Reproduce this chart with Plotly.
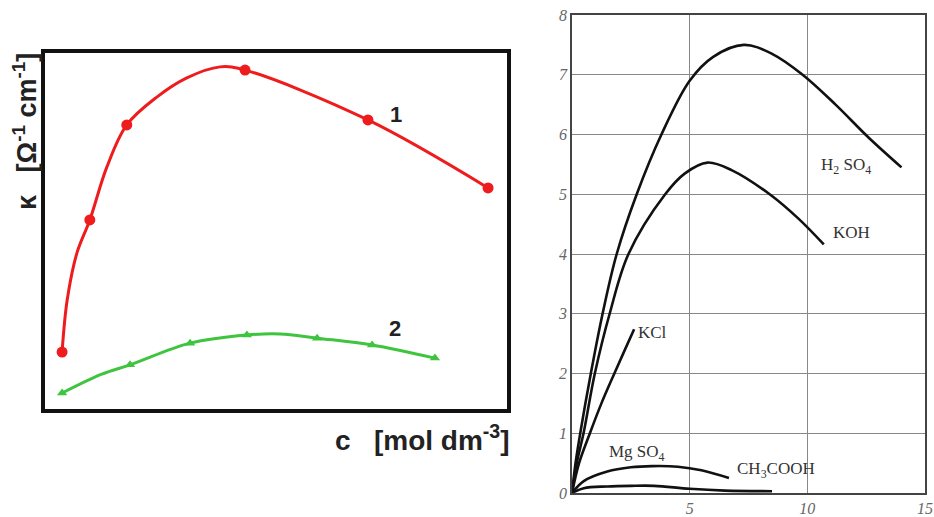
import plotly.graph_objects as go

# ---------------- Left panel data (arbitrary units) ----------------
red_x = [0.37, 0.48, 0.69, 0.97, 1.34, 1.77, 2.42, 3.07, 3.79, 4.33, 6.99, 9.59]
red_y = [1.60, 3.06, 4.38, 5.31, 6.80, 7.98, 8.76, 9.30, 9.61, 9.52, 8.12, 6.21]
red_mx = [0.37, 0.97, 1.77, 4.33, 6.99, 9.59]
red_my = [1.60, 5.31, 7.98, 9.52, 8.12, 6.21]

green_x = [0.37, 1.23, 1.84, 3.14, 4.37, 5.09, 5.89, 7.08, 8.44]
green_y = [0.45, 0.98, 1.24, 1.85, 2.08, 2.11, 1.99, 1.80, 1.43]
green_mx = [0.37, 1.84, 3.14, 4.37, 5.89, 7.08, 8.44]
green_my = [0.45, 1.24, 1.85, 2.08, 1.99, 1.80, 1.43]

# ---------------- Right panel data ----------------
h2so4_x = [0, 0.15, 0.35, 0.8, 1.3, 1.9, 2.75, 3.8, 5.0, 6.0, 7.3, 8.5, 9.8, 11.2, 12.6, 14.0]
h2so4_y = [0, 0.5, 1.0, 2.0, 3.0, 4.0, 5.0, 6.0, 6.9, 7.3, 7.5, 7.35, 7.0, 6.5, 5.95, 5.45]
koh_x = [0, 0.2, 0.49, 0.97, 1.6, 2.4, 3.96, 4.8, 5.76, 6.8, 8.4, 9.6, 10.7]
koh_y = [0, 0.5, 1.0, 2.0, 3.0, 4.0, 5.0, 5.35, 5.53, 5.4, 5.0, 4.6, 4.16]
kcl_x = [0, 0.3, 0.76, 1.25, 1.8, 2.25, 2.64]
kcl_y = [0, 0.5, 1.0, 1.5, 2.0, 2.4, 2.74]
mgso4_x = [0, 0.5, 1.5, 2.5, 3.4, 4.5, 5.5, 6.67]
mgso4_y = [0, 0.2, 0.36, 0.43, 0.45, 0.44, 0.38, 0.25]
ch3cooh_x = [0, 0.5, 1.5, 2.5, 3.5, 5.0, 6.5, 8.5]
ch3cooh_y = [0, 0.08, 0.11, 0.12, 0.12, 0.07, 0.04, 0.03]

right_yticks = [0, 1, 2, 3, 4, 5, 6, 7, 8]
right_xticks = [5, 10, 15]

RED = "#ee1c1c"
GREEN = "#3ec43e"

fig = go.Figure()

# left panel
fig.add_trace(go.Scatter(x=red_x, y=red_y, mode="lines", line=dict(color=RED, width=3, shape="spline"),
                         xaxis="x", yaxis="y", hoverinfo="skip"))
fig.add_trace(go.Scatter(x=red_mx, y=red_my, mode="markers", marker=dict(color=RED, size=11, symbol="circle"),
                         xaxis="x", yaxis="y"))
fig.add_trace(go.Scatter(x=green_x, y=green_y, mode="lines", line=dict(color=GREEN, width=3, shape="spline"),
                         xaxis="x", yaxis="y", hoverinfo="skip"))
fig.add_trace(go.Scatter(x=green_mx, y=green_my, mode="markers",
                         marker=dict(color=GREEN, size=9, symbol="triangle-up"),
                         xaxis="x", yaxis="y"))

# right panel
for xs, ys in [(h2so4_x, h2so4_y), (koh_x, koh_y), (kcl_x, kcl_y), (mgso4_x, mgso4_y), (ch3cooh_x, ch3cooh_y)]:
    fig.add_trace(go.Scatter(x=xs, y=ys, mode="lines", line=dict(color="#111111", width=2.6, shape="spline"),
                             xaxis="x2", yaxis="y2"))

W, H = 934, 517
def px(xp):
    return min(1.0, max(0.0, xp / W))
def py(yp):
    return min(1.0, max(0.0, 1 - yp / H))

tickfont = dict(family="Liberation Serif", size=16, color="#666666")
fig.update_layout(
    width=W, height=H,
    margin=dict(l=0, r=0, t=0, b=0, pad=0),
    paper_bgcolor="white", plot_bgcolor="white",
    showlegend=False,
    xaxis=dict(domain=[px(45), px(507)], range=[0, 10], showgrid=False, zeroline=False, automargin=False,
               showticklabels=False, ticks="", showline=True, mirror=True, linecolor="#111111", linewidth=3.5),
    yaxis=dict(domain=[py(409), py(53)], range=[0, 10], showgrid=False, zeroline=False, automargin=False,
               showticklabels=False, ticks="", showline=True, mirror=True, linecolor="#111111", linewidth=3.5),
    xaxis2=dict(domain=[px(572), px(925)], range=[0, 15], tickvals=right_xticks,
                ticktext=[f"<i>{v}</i>" for v in right_xticks], ticklabeloverflow="allow", automargin=False,
                showgrid=True, gridcolor="#888888", gridwidth=1, zeroline=False, ticks="",
                showline=True, mirror=True, linecolor="#444444", linewidth=1.5,
                tickfont=tickfont, anchor="y2"),
    yaxis2=dict(domain=[py(493), py(15)], range=[0, 8], tickvals=right_yticks,
                ticktext=[f"<i>{v}</i>" for v in right_yticks], ticklabeloverflow="allow", automargin=False,
                showgrid=True, gridcolor="#888888", gridwidth=1, zeroline=False, ticks="",
                showline=True, mirror=True, linecolor="#444444", linewidth=1.5,
                tickfont=tickfont, anchor="x2"),
)

sans = "Liberation Sans"
serif = "Liberation Serif"
NB = "\u00a0"
ann = [
    dict(x=px(396), y=py(115), text="<b>1</b>", font=dict(family=sans, size=22, color="#222222")),
    dict(x=px(395), y=py(328), text="<b>2</b>", font=dict(family=sans, size=22, color="#222222")),
    dict(x=px(25), y=py(132), text=f"<b>κ{NB}{NB}{NB}[Ω<sup>-1</sup> cm<sup>-1</sup>]</b>", textangle=-90,
         font=dict(family=sans, size=27, color="#222222")),
    dict(x=px(422), y=py(438), text=f"<b>c{NB}{NB}{NB}[mol dm<sup>-3</sup>]</b>",
         font=dict(family=sans, size=28, color="#222222")),
    dict(x=px(846), y=py(166), text="H<sub>2</sub> SO<sub>4</sub>", font=dict(family=serif, size=17, color="#333333")),
    dict(x=px(851), y=py(232), text="KOH", font=dict(family=serif, size=17, color="#333333")),
    dict(x=px(652), y=py(332), text="KCl", font=dict(family=serif, size=17, color="#333333")),
    dict(x=px(637), y=py(453), text="Mg SO<sub>4</sub>", font=dict(family=serif, size=17, color="#333333")),
    dict(x=px(776), y=py(470), text="CH<sub>3</sub>COOH", font=dict(family=serif, size=17, color="#333333")),
]
for a in ann:
    a.update(xref="paper", yref="paper", showarrow=False, xanchor="center", yanchor="middle")
fig.update_layout(annotations=ann)

fig.write_html(
    "out.html",
    config={"displayModeBar": False},
    post_script="document.body.style.margin='0';document.documentElement.style.overflow='hidden';",
)
